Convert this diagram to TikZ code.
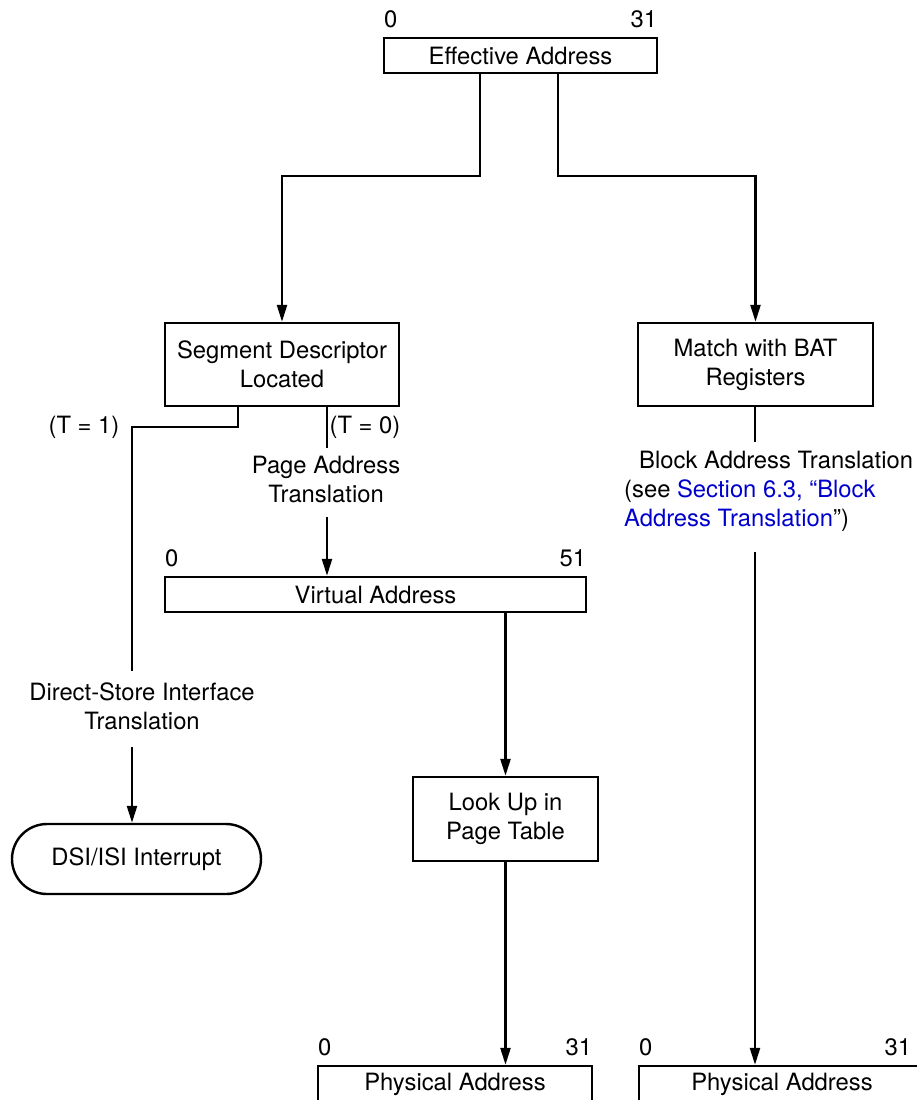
\documentclass[tikz,border=0pt]{standalone}
\usepackage{fontspec}
\setmainfont{TeX Gyre Heros}
\usetikzlibrary{arrows.meta,shapes.misc}
\definecolor{linkblue}{RGB}{0,0,204}

\begin{document}
\begin{tikzpicture}[x=0.5pt,y=-0.5pt,
  font=\fontsize{11.9}{14.5}\selectfont,
  line width=1.2pt,
  box/.style={draw, rectangle, align=center, inner sep=0pt},
  bit/.style={inner sep=0pt, yshift=4pt},
  bits/.style={label={[bit,anchor=south west]north west:0},
               label={[bit,anchor=south east]north east:#1}},
  txt/.style={align=center, inner sep=0pt},
  arr/.style={-{Triangle[length=8.5pt,width=5pt]}}]
  \useasboundingbox (0,0) rectangle (917,1100);

  % 地址框与处理框
  \node[box, bits=31, minimum width=136.5pt, minimum height=17.5pt] (ea) at (520.5,55.5) {Effective Address};
  \node[box, minimum width=117pt, minimum height=41.5pt] (sdl) at (282,364.5) {Segment Descriptor\\Located};
  \node[box, minimum width=117.5pt, minimum height=41.5pt] (bat) at (755.5,364.5) {Match with BAT\\Registers};
  \node[box, bits=51, minimum width=210.5pt, minimum height=17.5pt] (va) at (375.5,594.5) {Virtual Address};
  \node[box, minimum width=92.5pt, minimum height=42pt] (lut) at (505.5,819) {Look Up in\\Page Table};
  \node[draw, rounded rectangle, inner sep=0pt, minimum width=124.5pt, minimum height=35pt] (dsi) at (136.5,859) {DSI/ISI Interrupt};
  \node[box, bits=31, minimum width=137pt, minimum height=18pt] (pa1) at (455,1084) {Physical Address};
  \node[box, minimum width=143pt, minimum height=18pt,
        label={[bit,anchor=south west]north west:0},
        label={[bit,anchor=south east,xshift=-7pt]north east:31}] (pa2) at (782,1084) {Physical Address};

  % 分支说明
  \node[txt] (t1lbl) at (84,427) {(T = 1)};
  \node[txt] (t0lbl) at (365,427) {(T = 0)};
  \node[txt] (pat) at (326,479) {Page Address\\Translation};
  \node[txt] (dst) at (142,706) {Direct-Store Interface\\Translation};
  \node[txt, anchor=west, align=left] (bt) at (623,491.5)
    {\hspace*{7.5pt}Block Address Translation\\(see \textcolor{linkblue}{Section 6.3, “Block}\\\textcolor{linkblue}{Address Translation}”)};

  % 连线的自由端点
  \coordinate (t1) at (132,671);
  \coordinate (t1b) at (132,747);
  \coordinate (t0) at (327,448);
  \coordinate (t0b) at (327,517);
  \coordinate (b1) at (755,442);
  \coordinate (b2) at (755,552);

  % 连线
  \draw[arr] ([xshift=-20.25pt]ea.south) -- ++(0,102) -| (sdl.north);
  \draw[arr] ([xshift=18.75pt]ea.south) -- ++(0,102) -| (bat.north);
  \draw ([xshift=-22pt]sdl.south) -- ++(0,20) -| (t1);
  \draw (t0 |- sdl.south) -- (t0);
  \draw[arr] (t1b) -- (t1b |- dsi.north);
  \draw[arr] (t0b) -- (t0b |- va.north);
  \draw[arr] (va.south -| lut.north) -- (lut.north);
  \draw[arr] (lut.south) -- (lut.south |- pa1.north);
  \draw (b1 |- bat.south) -- (b1);
  \draw[arr] (b2) -- (b2 |- pa2.north);
\end{tikzpicture}
\end{document}
